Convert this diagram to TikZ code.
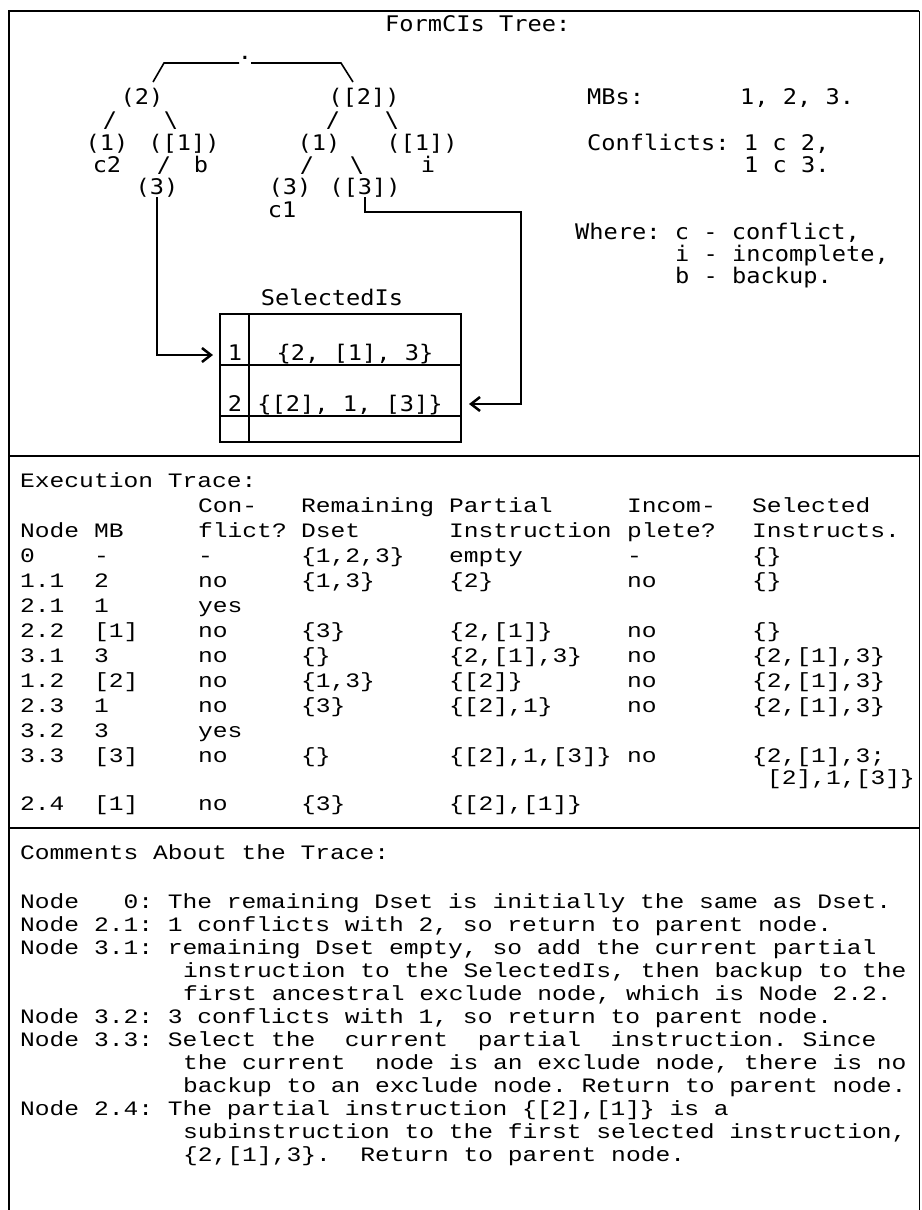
\documentclass[tikz,border=0pt]{standalone}
\usepackage{fontspec}
\usetikzlibrary{positioning}
\usetikzlibrary{arrows.meta}
\newfontfamily\typefont{DejaVu Sans Mono}[FakeStretch=1.1]
\newfontfamily\tracefont{Liberation Mono}[FakeStretch=1.2]
\frenchspacing

\begin{document}
\begin{tikzpicture}[
		x=1pt, y=-1pt,
		t/.style = {font=\typefont\fontsize{21.5}{24}\selectfont, inner sep=0pt, anchor=base},
		tl/.style = {t, anchor=base west},
		tr/.style = {font=\tracefont\fontsize{20.5}{25}\selectfont, inner sep=0pt, anchor=base west, text height=14pt, text depth=4pt},
		rule/.style = {line width=2.5pt},
		branch/.style = {line width=1.6pt},
		link/.style = {-{Straight Barb[length=9pt, width=14pt]}, line width=2.5pt}
		]
		
		\useasboundingbox (0,0) rectangle (921,1210);
		
		% === === Frame === ===
		\draw[rule] (9,1210) -- (9,11) -- (919,11);
		\draw[line width=1pt] (919,11) -- (919,1210);
		\draw[rule] (9,456) -- (919,456);
		\draw[rule] (9,828) -- (919,828);
		
		
		% === === Tree === ===
		\node[tl]	(title)	at	(385,31)	{FormCIs Tree:};
		\node[t]	(root)	at	(245,59)	{.};
		\node[t]	(n2)	at	(142,104)	{(2)};
		\node[t]	(n2x)	at	(364,104)	{([2])};
		\node[t]	(s1)	at	(110,127)	{/};
		\node[t]	(s2)	at	(171,127)	{\textbackslash};
		\node[t]	(s3)	at	(333,127)	{/};
		\node[t]	(s4)	at	(392,127)	{\textbackslash};
		\node[t]	(n1)	at	(107,150)	{(1)};
		\node[t]	(n1x)	at	(184,150)	{([1])};
		\node[t]	(m1)	at	(319,150)	{(1)};
		\node[t]	(m1x)	at	(422,150)	{([1])};
		\node[t]	(lc2)	at	(107,172)	{c2};
		\node[t]	(s5)	at	(164,172)	{/};
		\node[t]	(lb)	at	(201,172)	{b};
		\node[t]	(s6)	at	(307,172)	{/};
		\node[t]	(s7)	at	(357,172)	{\textbackslash};
		\node[t]	(li)	at	(428,172)	{i};
		\node[t]	(n3)	at	(157,194)	{(3)};
		\node[t]	(m3)	at	(290,194)	{(3)};
		\node[t]	(m3x)	at	(365,194)	{([3])};
		\node[t]	(lc1)	at	(282,217)	{c1};
		
		\draw[branch] ([shift={(-6,4)}]root.base) -- ([shift={(-81,4)}]root.base) -- ([shift={(-92,23)}]root.base);
		\draw[branch] ([shift={(6,4)}]root.base) -- ([shift={(96,4)}]root.base) -- ([shift={(108,23)}]root.base);
		
		% legend
		\node[tl]	(mbs)	at	(587,104)	{MBs:};
		\node[tl]	(mbv)	at	(740,104)	{1, 2, 3.};
		\node[tl]	(conf)	at	(587,150)	{Conflicts: 1 c 2,};
		\node[tl]	(conf2)	at	(744,172)	{1 c 3.};
		\node[tl]	(wc)	at	(575,239)	{Where: c - conflict,};
		\node[tl]	(wi)	at	(675,261)	{i - incomplete,};
		\node[tl]	(wb)	at	(675,283)	{b - backup.};
		
		
		% === === SelectedIs === ===
		\node[t]	(selt)	at	(332,305)	{SelectedIs};
		\draw[rule] (220,314) rectangle (461,442);
		\draw[rule] (249,314) -- (249,442);
		\draw[rule] (220,365) -- (461,365);
		\draw[rule] (220,416) -- (461,416);
		\node[t]	(i1)	at	(235,360)	{1};
		\node[t]	(e1)	at	(355,360)	{\{2, [1], 3\}};
		\node[t]	(i2)	at	(235,411)	{2};
		\node[t]	(e2)	at	(350,411)	{\{[2], 1, [3]\}};
		
		\coordinate (in1)	at (213,355);
		\coordinate (in2)	at (469,404);
		\coordinate (bend)	at (521,212);
		\draw[link]	(n3.south)	|-	(in1);
		\draw[link]	(m3x.south)	|-	(bend)	|-	(in2);
		
		
		% === === Execution trace === ===
		\node[tr]	(exec)	at	(20,487)	{Execution Trace:};
		\node[tr]	(h1c)	at	(198,512)	{Con-};
		\node[tr]	(h1d)	at	(301,512)	{Remaining};
		\node[tr]	(h1p)	at	(449,512)	{Partial};
		\node[tr]	(h1i)	at	(627,512)	{Incom-};
		\node[tr]	(h1s)	at	(752,512)	{Selected};
		\node[tr]	(h2n)	at	(20,537)	{Node};
		\node[tr]	(h2m)	at	(94,537)	{MB};
		\node[tr]	(h2c)	at	(198,537)	{flict?};
		\node[tr]	(h2d)	at	(301,537)	{Dset};
		\node[tr]	(h2p)	at	(449,537)	{Instruction};
		\node[tr]	(h2i)	at	(627,537)	{plete?};
		\node[tr]	(h2s)	at	(752,537)	{Instructs.};
		
		\foreach \y/\a/\b/\c/\d/\e/\f/\g [count=\k] in {
			562/0/-/-/{\{1,2,3\}}/empty/-/\{\},
			587/1.1/2/no/{\{1,3\}}/\{2\}/no/\{\},
			612/2.1/1/yes/{}/{}/{}/{},
			637/2.2/[1]/no/\{3\}/{\{2,[1]\}}/no/\{\},
			662/3.1/3/no/\{\}/{\{2,[1],3\}}/no/{\{2,[1],3\}},
			687/1.2/[2]/no/{\{1,3\}}/\{[2]\}/no/{\{2,[1],3\}},
			712/2.3/1/no/\{3\}/{\{[2],1\}}/no/{\{2,[1],3\}},
			737/3.2/3/yes/{}/{}/{}/{},
			762/3.3/[3]/no/\{\}/{\{[2],1,[3]\}}/no/{\{2,[1],3;},
			810/2.4/[1]/no/\{3\}/{\{[2],[1]\}}/{}/{}}{
			\node[tr]	(nd\k)	at	(20,\y)		{\a};
			\node[tr]	(mb\k)	at	(94,\y)		{\b};
			\node[tr]	(cf\k)	at	(198,\y)	{\c};
			\node[tr]	(ds\k)	at	(301,\y)	{\d};
			\node[tr]	(pi\k)	at	(449,\y)	{\e};
			\node[tr]	(ic\k)	at	(627,\y)	{\f};
			\node[tr]	(si\k)	at	(752,\y)	{\g};
		}
		\node[tr]	(si9b)	at	(767,784)	{[2],1,[3]\}};
		
		
		% === === Comments === ===
		\node[tr]	(cmt)	at	(20,859)	{Comments About the Trace:};
		\node[tr]	(c0)	at	(20,908)	{Node\ \ \ 0: The remaining Dset is initially the same as Dset.};
		\node[tr]	(c21)	at	(20,931)	{Node 2.1: 1 conflicts with 2, so return to parent node.};
		\node[tr]	(c31)	at	(20,954)	{Node 3.1: remaining Dset empty, so add the current partial};
		\node[tr]	(c31b)	at	(183,977)	{instruction to the SelectedIs, then backup to the};
		\node[tr]	(c31c)	at	(183,1000)	{first ancestral exclude node, which is Node 2.2.};
		\node[tr]	(c32)	at	(20,1023)	{Node 3.2: 3 conflicts with 1, so return to parent node.};
		\node[tr]	(c33)	at	(20,1046)	{Node 3.3: Select the\ \ current\ \ partial\ \ instruction. Since};
		\node[tr]	(c33b)	at	(183,1069)	{the current\ \ node is an exclude node, there is no};
		\node[tr]	(c33c)	at	(183,1092)	{backup to an exclude node. Return to parent node.};
		\node[tr]	(c24)	at	(20,1115)	{Node 2.4: The partial instruction \{[2],[1]\} is a};
		\node[tr]	(c24b)	at	(183,1138)	{subinstruction to the first selected instruction,};
		\node[tr]	(c24c)	at	(183,1161)	{\{2,[1],3\}.\ \ Return to parent node.};
		
		
	\end{tikzpicture}
\end{document}
